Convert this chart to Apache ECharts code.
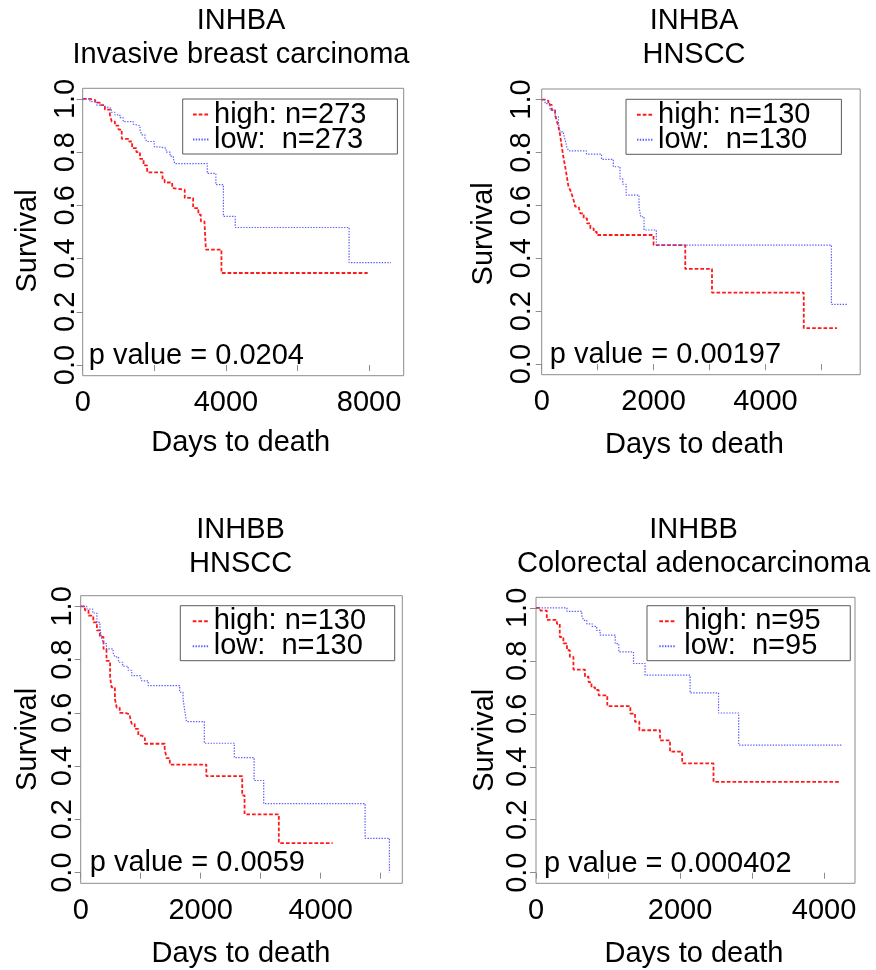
<!DOCTYPE html>
<html>
<head>
<meta charset="utf-8">
<script src="https://cdn.jsdelivr.net/npm/echarts@6/dist/echarts.min.js"></script>
<style>
  html, body { margin: 0; padding: 0; background: #fff; }
  #chart { width: 876px; height: 970px; }
</style>
</head>
<body>
<div id="chart"></div>
<script>
// Kaplan-Meier survival estimates: [days, survival after the step]
const genes = ['INHBA', 'INHBA', 'INHBB', 'INHBB'];
const cancers = ['Invasive breast carcinoma', 'HNSCC', 'HNSCC', 'Colorectal adenocarcinoma'];
const groupSizes = [273, 130, 130, 95];
const pValues = ['0.0204', '0.00197', '0.0059', '0.000402'];
const xMax = [8966, 5695, 5360, 4430];
const xTickValues = [
  [0, 2000, 4000, 6000, 8000],
  [0, 1000, 2000, 3000, 4000, 5000],
  [0, 1000, 2000, 3000, 4000, 5000],
  [0, 1000, 2000, 3000, 4000]
];
const xLabelValues = [
  [0, 4000, 8000],
  [0, 2000, 4000],
  [0, 2000, 4000],
  [0, 2000, 4000]
];
const yTickValues = [0, 0.2, 0.4, 0.6, 0.8, 1.0];

const highBreast = [[0,1],[200,0.996],[350,0.986],[480,0.977],[620,0.96],[760,0.94],[810,0.915],[900,0.90],[1000,0.885],[1090,0.85],[1300,0.84],[1380,0.815],[1500,0.80],[1600,0.775],[1700,0.75],[1800,0.724],[2230,0.696],[2290,0.686],[2500,0.665],[2550,0.659],[2850,0.628],[3085,0.59],[3230,0.565],[3300,0.54],[3400,0.534],[3440,0.434],[3875,0.346],[7960,0.346]];
const lowBreast = [[0,1],[200,0.99],[390,0.977],[550,0.97],[670,0.965],[800,0.95],[900,0.94],[1040,0.93],[1130,0.915],[1410,0.905],[1460,0.9],[1600,0.885],[1650,0.865],[1740,0.852],[1790,0.84],[2000,0.82],[2110,0.815],[2330,0.80],[2440,0.785],[2530,0.777],[2570,0.757],[3480,0.72],[3720,0.678],[3930,0.559],[4260,0.517],[7440,0.385],[8610,0.385]];

const highHnsccA = [[0,1],[60,0.995],[120,0.98],[180,0.96],[240,0.94],[270,0.92],[300,0.897],[330,0.865],[360,0.82],[390,0.78],[420,0.746],[450,0.708],[480,0.67],[510,0.658],[540,0.64],[570,0.62],[600,0.595],[660,0.589],[690,0.57],[750,0.551],[810,0.532],[870,0.513],[930,0.50],[985,0.488],[2000,0.45],[2567,0.36],[3045,0.27],[4686,0.136],[5280,0.136]];
const lowHnsccA = [[0,1],[60,0.985],[150,0.96],[240,0.935],[300,0.91],[330,0.878],[390,0.87],[420,0.847],[450,0.82],[480,0.806],[800,0.794],[1070,0.774],[1280,0.746],[1400,0.70],[1450,0.68],[1510,0.639],[1740,0.595],[1770,0.557],[1830,0.507],[2050,0.45],[5180,0.226],[5470,0.226]];

const highHnsccB = [[0,1],[70,0.985],[130,0.965],[210,0.94],[270,0.91],[320,0.885],[380,0.84],[430,0.795],[490,0.734],[515,0.696],[570,0.6525],[600,0.62],[650,0.60],[740,0.594],[820,0.585],[850,0.559],[900,0.54],[960,0.515],[1010,0.509],[1070,0.484],[1400,0.465],[1430,0.43],[1485,0.406],[2094,0.3625],[2692,0.29],[2731,0.219],[3302,0.111],[4200,0.111]];
const lowHnsccB = [[0,1],[100,0.99],[200,0.975],[270,0.94],[320,0.915],[350,0.88],[380,0.86],[430,0.84],[540,0.825],[570,0.81],[630,0.79],[700,0.775],[790,0.76],[850,0.74],[990,0.734],[1020,0.72],[1125,0.7025],[1650,0.6775],[1706,0.6525],[1734,0.609],[1762,0.5675],[2060,0.486],[2560,0.432],[2890,0.346],[3050,0.259],[4740,0.129],[5145,0]];

const highColorectal = [[0,1],[60,0.99],[150,0.955],[290,0.94],[330,0.89],[380,0.866],[430,0.84],[470,0.815],[520,0.767],[680,0.74],[730,0.72],[770,0.70],[820,0.69],[870,0.67],[990,0.629],[1310,0.601],[1375,0.57],[1435,0.538],[1722,0.50],[1861,0.457],[2030,0.4125],[2465,0.343],[4225,0.343]];
const lowColorectal = [[0,1],[430,0.987],[635,0.972],[660,0.953],[705,0.94],[780,0.93],[843,0.915],[890,0.897],[1100,0.865],[1150,0.834],[1354,0.79],[1515,0.746],[2140,0.679],[2535,0.603],[2815,0.482],[4250,0.482]];

const highCurves = [highBreast, highHnsccA, highHnsccB, highColorectal];
const lowCurves = [lowBreast, lowHnsccA, lowHnsccB, lowColorectal];

// Panel layout in pixels
const FONT = '"Liberation Sans", Arial, sans-serif';
const panels = [
  { left: 82.7, top: 88.3, width: 321, height: 287.4, titleX: 241, titleTop: 4,
    legend: { left: 182.7, top: 99, pad: [1, 31, 0, 9.3], textPad: 0 },
    pText: { left: 88.7, top: 341.5 }, yLabelMargin: 2, yNameGap: 40, yNameShift: 18, xNameGap: 53, xNameShift: 5 },
  { left: 541.7, top: 89, width: 318.5, height: 285.7, titleX: 694, titleTop: 4,
    legend: { left: 626, top: 99.3, pad: [1, 31, 0, 10], textPad: 0 },
    pText: { left: 549.7, top: 340.8 }, yLabelMargin: 5.5, yNameGap: 43, yNameShift: 4, xNameGap: 56, xNameShift: 13 },
  { left: 80.7, top: 595.7, width: 321.6, height: 287.6, titleX: 240.6, titleTop: 513,
    legend: { left: 180.3, top: 605.7, pad: [1, 28.6, 0, 11.4], textPad: 0 },
    pText: { left: 89.7, top: 848.8 }, yLabelMargin: 3.5, yNameGap: 38.5, yNameShift: 0, xNameGap: 55.7, xNameShift: 1 },
  { left: 536, top: 597.3, width: 319, height: 286, titleX: 693.5, titleTop: 513,
    legend: { left: 647, top: 605.7, pad: [1, 29.7, 0, 11.3], textPad: 4 },
    pText: { left: 544, top: 849.2 }, yLabelMargin: 4, yNameGap: 36.5, yNameShift: 0, xNameGap: 55.7, xNameShift: 3 }
];

const grids = [], xAxes = [], yAxes = [], titles = [], legends = [], series = [];

panels.forEach((p, i) => {
  grids.push({
    left: p.left, top: p.top, width: p.width, height: p.height,
    show: true, borderColor: '#8c8c8c', borderWidth: 1, backgroundColor: 'transparent',
    containLabel: false, outerBoundsMode: 'none'
  });

  xAxes.push({
    gridIndex: i, type: 'value', min: 0, max: xMax[i],
    axisLine: { show: false }, splitLine: { show: false },
    axisTick: { show: true, customValues: xTickValues[i], length: 6, lineStyle: { color: '#8c8c8c' } },
    axisLabel: { customValues: xLabelValues[i], formatter: v => String(v),
      fontSize: 29, lineHeight: 29, margin: 13, color: '#000', fontFamily: FONT },
    name: 'Days to death', nameLocation: 'middle', nameGap: p.xNameGap, nameMoveOverlap: false,
    nameTextStyle: { fontSize: 29, lineHeight: 29, color: '#000', fontFamily: FONT, padding: [0, p.xNameShift, 0, 0] }
  });

  yAxes.push({
    gridIndex: i, type: 'value', min: -0.04, max: 1.04,
    axisLine: { show: false }, splitLine: { show: false },
    axisTick: { show: true, customValues: yTickValues, length: 6, lineStyle: { color: '#8c8c8c' } },
    axisLabel: { customValues: yTickValues, rotate: 90, formatter: v => v.toFixed(1),
      fontSize: 29, lineHeight: 29, margin: p.yLabelMargin, color: '#000', fontFamily: FONT },
    name: 'Survival', nameLocation: 'middle', nameRotate: 90, nameGap: p.yNameGap, nameMoveOverlap: false,
    nameTextStyle: { fontSize: 29, lineHeight: 29, color: '#000', fontFamily: FONT, padding: [0, p.yNameShift, 0, 0] }
  });

  titles.push({
    text: genes[i] + '\n' + cancers[i],
    left: p.titleX, top: p.titleTop, textAlign: 'center', padding: 0,
    textStyle: { fontSize: 29, lineHeight: 34, fontWeight: 'normal', color: '#000', fontFamily: FONT }
  });
  titles.push({
    text: 'p value = ' + pValues[i],
    left: p.pText.left, top: p.pText.top, padding: 0,
    textStyle: { fontSize: 29, lineHeight: 29, fontWeight: 'normal', color: '#000', fontFamily: FONT }
  });

  const highName = 'high: n=' + groupSizes[i];
  const lowName = 'low:  n=' + groupSizes[i];

  legends.push({
    orient: 'vertical', left: p.legend.left, top: p.legend.top,
    data: [highName, lowName],
    padding: p.legend.pad, itemGap: -4, itemWidth: 16, itemHeight: 14,
    borderColor: '#5a5a5a', borderWidth: 1, backgroundColor: 'transparent',
    selectedMode: false,
    itemStyle: { color: 'rgba(0,0,0,0)', borderWidth: 0, opacity: 0 },
    textStyle: { fontSize: 29, lineHeight: 26, color: '#000', fontFamily: FONT, padding: [0, 0, 0, p.legend.textPad] }
  });

  series.push({
    name: highName, type: 'line', xAxisIndex: i, yAxisIndex: i,
    data: highCurves[i], step: 'end', symbol: 'none', showSymbol: false,
    lineStyle: { color: '#ff1a1a', width: 1.8, type: [3.7, 2] },
    itemStyle: { color: '#ff1a1a' },
    emphasis: { disabled: true }, animation: false
  });
  series.push({
    name: lowName, type: 'line', xAxisIndex: i, yAxisIndex: i,
    data: lowCurves[i], step: 'end', symbol: 'none', showSymbol: false,
    lineStyle: { color: '#5c5cff', width: 1.2, type: [1.4, 1.4] },
    itemStyle: { color: '#5c5cff' },
    emphasis: { disabled: true }, animation: false
  });
});

const chart = echarts.init(document.getElementById('chart'), null, { renderer: 'canvas' });
chart.setOption({
  animation: false,
  backgroundColor: '#fff',
  title: titles,
  legend: legends,
  grid: grids,
  xAxis: xAxes,
  yAxis: yAxes,
  series: series
});
</script>
</body>
</html>
